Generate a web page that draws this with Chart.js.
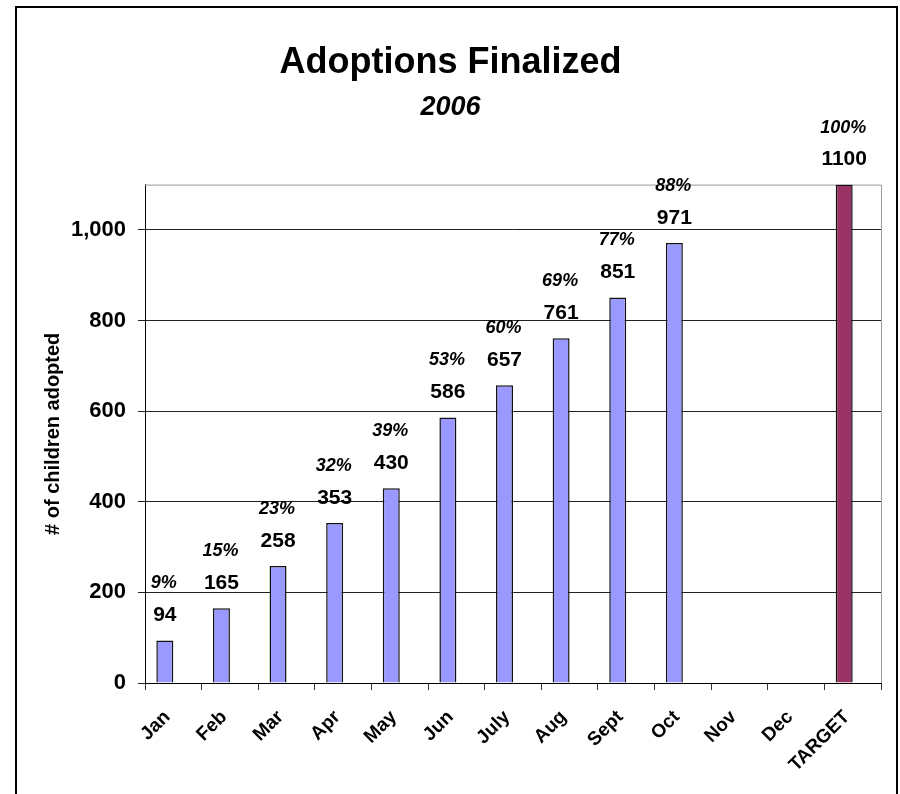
<!DOCTYPE html>
<html>
<head>
<meta charset="utf-8">
<script src="https://cdn.jsdelivr.net/npm/chart.js@4.4.1/dist/chart.umd.min.js"></script>
<style>
  html, body { margin: 0; padding: 0; background: #fff; }
  canvas { display: block; }
</style>
</head>
<body>
<canvas id="ChartAdoptions" width="900" height="794"></canvas>
<script>
// ---------------- data ------------------------
const months = ['Jan', 'Feb', 'Mar', 'Apr', 'May', 'Jun', 'July', 'Aug', 'Sept', 'Oct', 'Nov', 'Dec', 'TARGET'];
const adopted = [94, 165, 258, 353, 430, 586, 657, 761, 851, 971, null, null, 1100];
const percentLabels = ['9%', '15%', '23%', '32%', '39%', '53%', '60%', '69%', '77%', '88%', '', '', '100%'];
// empty second series (keeps the bars left of the category centre, like the original)
const emptySeries = months.map(() => null);
const yTicks = [0, 200, 400, 600, 800, 1000];

const FONT = "'Liberation Sans', Arial, sans-serif";

// ---------------- plugins ------------------------
// white page + black frame, gray top/right edge of the plot
const framePlugin = {
    id: 'frame',
    beforeDraw(chart) {
        const ctx = chart.ctx;
        ctx.save();
        ctx.fillStyle = '#fff';
        ctx.fillRect(0, 0, chart.width, chart.height);
        ctx.strokeStyle = '#000';
        ctx.lineWidth = 2;
        ctx.strokeRect(16, 7, 881, 800);
        ctx.restore();
    },
    beforeDatasetsDraw(chart) {
        const a = chart.chartArea;
        const ctx = chart.ctx;
        ctx.save();
        ctx.strokeStyle = '#999';
        ctx.lineWidth = 1;
        ctx.beginPath();
        ctx.moveTo(a.left, a.top + 0.5);
        ctx.lineTo(a.right + 0.5, a.top + 0.5);
        ctx.lineTo(a.right + 0.5, a.bottom);
        ctx.stroke();
        ctx.restore();
    }
};

// value + percent labels above each bar
const labelPlugin = {
    id: 'barLabels',
    afterDatasetsDraw(chart) {
        const ctx = chart.ctx;
        const meta = chart.getDatasetMeta(0);
        ctx.save();
        ctx.fillStyle = '#000';
        ctx.textAlign = 'center';
        ctx.textBaseline = 'middle';
        meta.data.forEach((bar, i) => {
            if (adopted[i] == null) return;
            ctx.font = 'bold 21px ' + FONT;
            ctx.fillText(String(adopted[i]), bar.x, bar.y - 25);
            ctx.font = 'italic bold 18px ' + FONT;
            ctx.fillText(percentLabels[i], bar.x - 1, bar.y - 57);
        });
        ctx.restore();
    }
};

// ---------------- chart ------------------------
const grafico = document.getElementById('ChartAdoptions');

new Chart(grafico, {
    type: 'bar',
    data: {
        labels: months,
        datasets: [{
            label: 'Adoptions',
            data: adopted,
            backgroundColor: months.map(m => m === 'TARGET' ? '#993366' : '#9999FF'),
            borderColor: '#111',
            borderWidth: 1.5,
            borderSkipped: 'bottom',
            barPercentage: 1,
            categoryPercentage: 0.6
        }, {
            label: '',
            data: emptySeries,
            barPercentage: 1,
            categoryPercentage: 0.6
        }]
    },
    options: {
        responsive: false,
        animation: false,
        layout: {
            padding: { top: 8, left: 20, right: 19, bottom: 0 }
        },
        scales: {
            x: {
                offset: true,
                grid: {
                    offset: true,
                    drawOnChartArea: false,
                    color: '#333',
                    tickLength: 7
                },
                border: { color: '#000', width: 1 },
                ticks: {
                    color: '#000',
                    font: { family: FONT, size: 19, weight: 'bold' },
                    minRotation: 45,
                    maxRotation: 45,
                    padding: 16,
                    labelOffset: -6
                },
                afterFit(scale) { scale.height = 111; }
            },
            y: {
                min: 0,
                max: 1100,
                grid: {
                    color: '#222',
                    tickLength: 7
                },
                border: { color: '#000', width: 1 },
                ticks: {
                    color: '#000',
                    font: { family: FONT, size: 22, weight: 'bold' },
                    padding: 12,
                    callback: v => v.toLocaleString('en-US')
                },
                afterBuildTicks(scale) {
                    scale.ticks = yTicks.map(v => ({ value: v }));
                },
                title: {
                    display: true,
                    text: '# of children adopted',
                    color: '#000',
                    font: { family: FONT, size: 20, weight: 'bold' },
                    padding: { top: 21, bottom: 0 }
                },
                afterFit(scale) { scale.width = 125; }
            }
        },
        plugins: {
            legend: { display: false },
            tooltip: { enabled: false },
            title: {
                display: true,
                text: 'Adoptions Finalized',
                color: '#000',
                font: { family: FONT, size: 36, weight: 'bold' },
                padding: { top: 33, bottom: 7 }
            },
            subtitle: {
                display: true,
                text: '2006',
                color: '#000',
                font: { family: FONT, size: 27, weight: 'bold', style: 'italic' },
                padding: { top: 0, bottom: 61 }
            }
        }
    },
    plugins: [framePlugin, labelPlugin]
});
</script>
</body>
</html>
